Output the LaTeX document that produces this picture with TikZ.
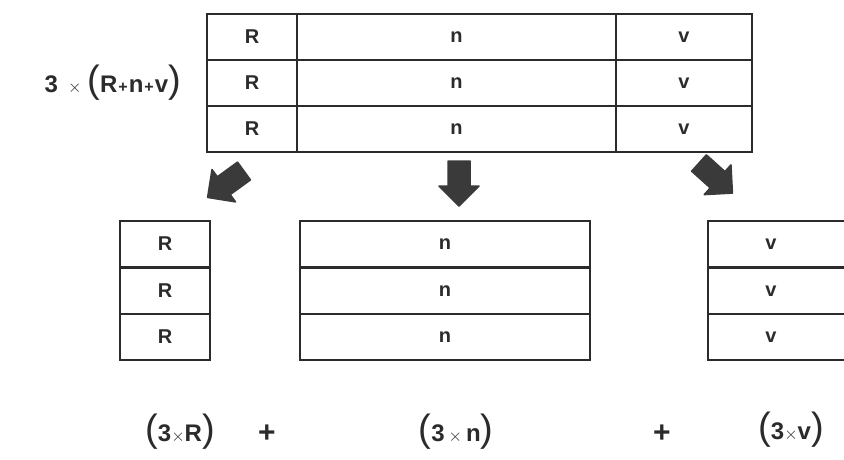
\documentclass[tikz,border=0pt]{standalone}
\usepackage{fontspec}
\setmainfont{Liberation Sans}
\definecolor{ink}{HTML}{2B2B2B}
\definecolor{arrowfill}{HTML}{3A3A3A}
\tikzset{
  cell/.style={draw=ink, line width=2pt, minimum height=46pt, inner sep=0pt,
               text=ink, font=\bfseries\fontsize{20}{20}\selectfont},
  celltext/.style={text=ink, font=\bfseries\fontsize{20}{20}\selectfont, inner sep=0pt},
  formula/.style={text=ink, font=\bfseries\fontsize{24}{24}\selectfont, inner sep=0pt},
  blockarrow/.style={fill=arrowfill, draw=arrowfill, line width=1.5pt, line join=round}
}
\newcommand{\bigparL}{{\fontsize{38}{38}\selectfont\mdseries(}}
\newcommand{\bigparR}{{\fontsize{38}{38}\selectfont\mdseries)}}
\newcommand{\timesign}{{\fontsize{18}{18}\selectfont$\times$}}
\newcommand{\smallplus}{{\fontsize{16}{16}\selectfont\hspace{1pt}+\hspace{1pt}}}
\newcommand{\bigplus}{{\fontsize{30}{30}\selectfont+}}
% block arrow: #1 = start, #2 = direction angle, #3 = name
\newcommand{\blockarrowat}[3]{%
  \begin{scope}[shift={#1}, rotate=#2]
    \coordinate (#3) at (0,0);
    \draw[blockarrow] (0,-11) -- (25,-11) -- (25,-20) -- (45,0)
      -- (25,20) -- (25,11) -- (0,11) -- cycle;
  \end{scope}}
\begin{document}
\begin{tikzpicture}[x=1pt,y=-1pt]
  \useasboundingbox[fill=white] (0,0) rectangle (844,460);

  % combined table: three rows of R | n | v
  \foreach \r/\y in {1/37,2/83,3/129}{
    \node[cell, minimum width=90pt]  (tR\r) at (252,\y)   {R};
    \node[cell, minimum width=319pt] (tN\r) at (456.5,\y) {n};
    \node[cell, minimum width=136pt] (tV\r) at (684,\y)   {v};
  }
  \node[formula, anchor=east] (total) at (181,83)
    {3\hspace{10pt}\timesign\hspace{6pt}\bigparL R\smallplus n\smallplus v\bigparR};

  % the three split-off columns
  \foreach \r/\y in {1/244,2/291,3/337}{
    \node[cell, minimum width=90pt]  (bR\r) at (165,\y) {R};
    \node[cell, minimum width=290pt] (bN\r) at (445,\y) {n};
    \node[cell, minimum width=140pt] (bV\r) at (778,\y) {};
    \node[celltext] (bVt\r) at (771,\y) {v};
  }

  % arrows from the combined table to the parts
  \blockarrowat{(244,171)}{216}{aR}
  \blockarrowat{(459,161)}{270}{aN}
  \blockarrowat{(699,163)}{-42}{aV}

  % sum of the parts
  \node[formula] (sR) at (180,432) {\bigparL 3\timesign R\bigparR};
  \node[formula] (p1) at (267,434) {\bigplus};
  \node[formula] (sN) at (456,432) {\bigparL 3\,\timesign\,n\bigparR};
  \node[formula] (p2) at (662,434) {\bigplus};
  \node[formula] (sV) at (791,430) {\bigparL 3\timesign v\bigparR};
\end{tikzpicture}
\end{document}
